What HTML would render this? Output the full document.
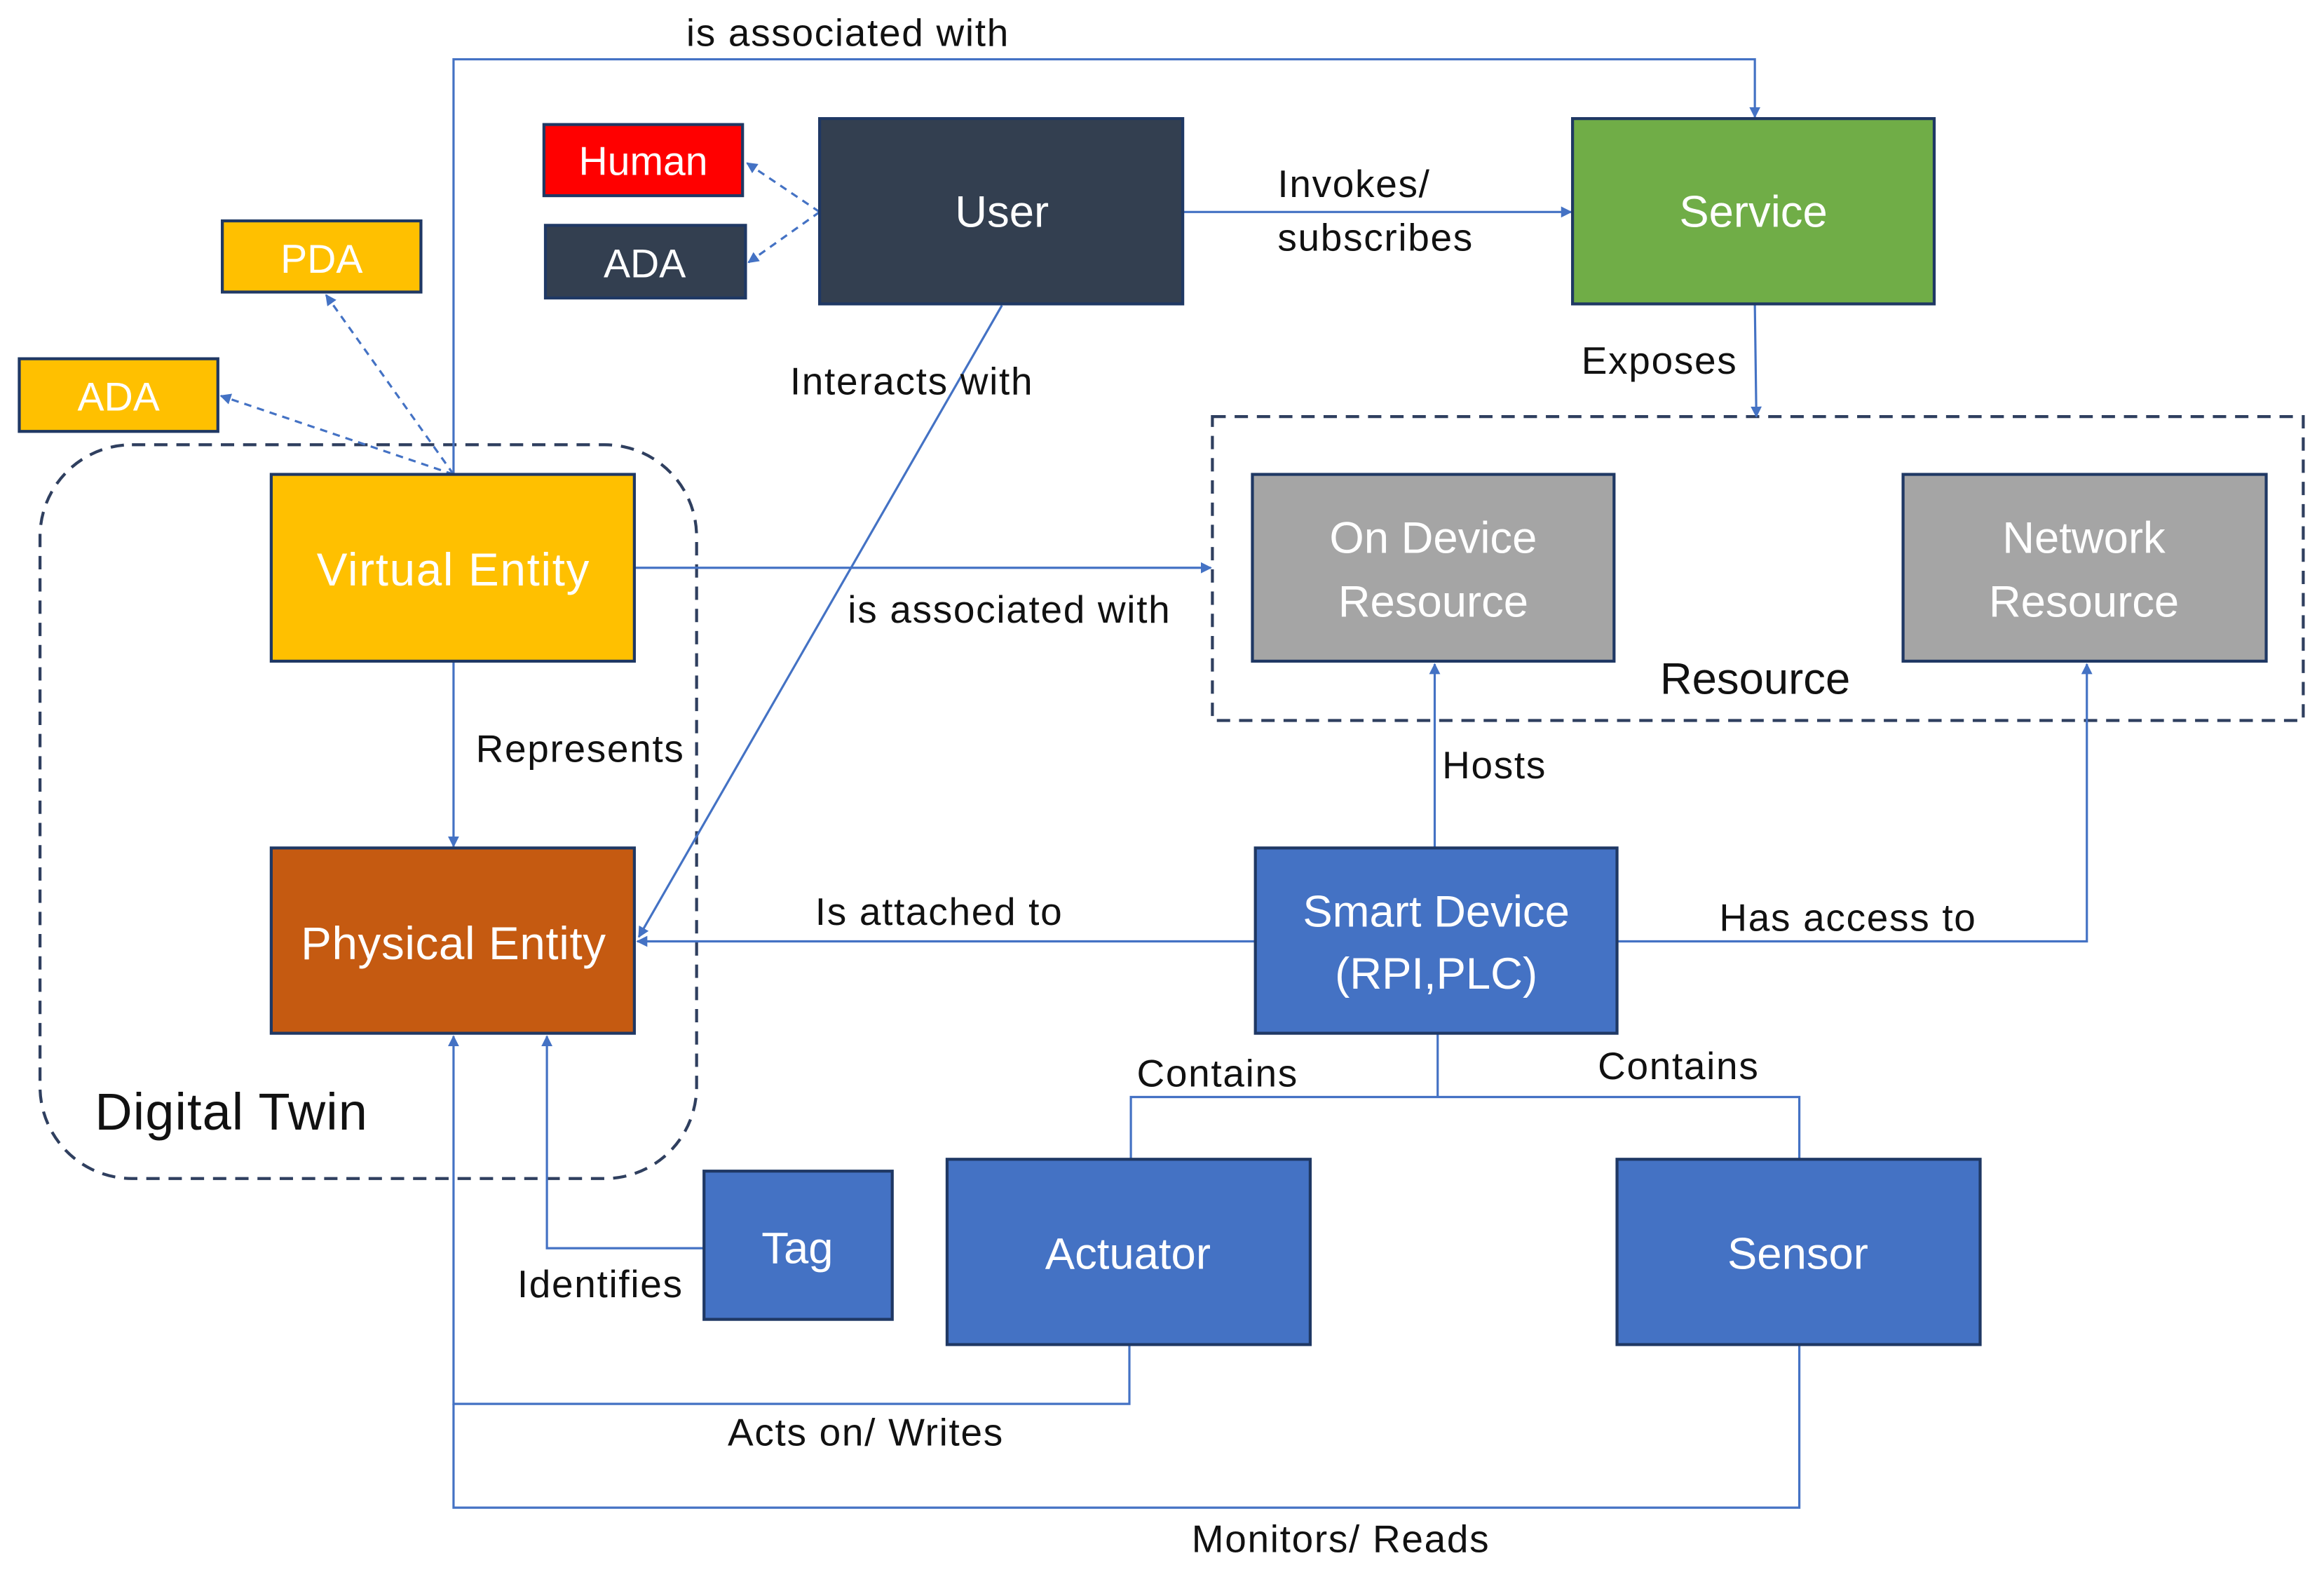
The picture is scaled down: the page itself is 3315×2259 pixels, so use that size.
<!DOCTYPE html>
<html><head><meta charset="utf-8"><style>html,body{margin:0;padding:0;background:#fff}svg{display:block}</style></head>
<body>
<svg width="3315" height="2259" viewBox="0 0 1568 1068.5" xmlns="http://www.w3.org/2000/svg" font-family="'Liberation Sans', 'DejaVu Sans', sans-serif">
<defs>
<marker id="a" viewBox="0 0 10 10" refX="9" refY="5" markerWidth="5" markerHeight="5" orient="auto-start-reverse"><path d="M0,0 L10,5 L0,10 z" fill="#4472c4"/></marker>
</defs>
<rect width="1568" height="1068.5" fill="#fff"/>
<rect x="27" y="300" width="443" height="495" rx="62" fill="none" stroke="#2f3f5f" stroke-width="2" stroke-dasharray="9,6"/>
<rect x="818" y="281" width="736" height="205" fill="none" stroke="#2f3f5f" stroke-width="2" stroke-dasharray="9,6"/>
<g fill="none" stroke="#4472c4" stroke-width="1.5">
<path d="M306,320 V40 H1184 V79" marker-end="url(#a)"/>
<path d="M798,143 H1060" marker-end="url(#a)"/>
<path d="M1184,206 L1185,281" marker-end="url(#a)"/>
<path d="M428,383 H817" marker-end="url(#a)"/>
<path d="M676,206 L431,632" marker-end="url(#a)"/>
<path d="M306,446 V571" marker-end="url(#a)"/>
<path d="M847,635 H430" marker-end="url(#a)"/>
<path d="M968,572 V448" marker-end="url(#a)"/>
<path d="M1091,635 H1408 V448" marker-end="url(#a)"/>
<path d="M970,697 V740 M763,782 V740 H1214 V782"/>
<path d="M475,842 H369 V699" marker-end="url(#a)"/>
<path d="M762,907 V947 H306 V699" marker-end="url(#a)"/>
<path d="M1214,907 V1017 H306 V947"/>
<g stroke-dasharray="5,4">
<path d="M553,143 L504,110" marker-end="url(#a)"/>
<path d="M553,143 L505,177" marker-end="url(#a)"/>
<path d="M306,320 L220,199" marker-end="url(#a)"/>
<path d="M306,320 L149,267" marker-end="url(#a)"/>
</g>
</g>
<g stroke="#1f3864" stroke-width="2">
<rect x="367" y="84" width="134" height="48" fill="#ff0000"/>
<rect x="368" y="152" width="135" height="49" fill="#333f50"/>
<rect x="553" y="80" width="245" height="125" fill="#333f50"/>
<rect x="1061" y="80" width="244" height="125" fill="#70ad47"/>
<rect x="150" y="149" width="134" height="48" fill="#ffc000"/>
<rect x="13" y="242" width="134" height="49" fill="#ffc000"/>
<rect x="183" y="320" width="245" height="126" fill="#ffc000"/>
<rect x="183" y="572" width="245" height="125" fill="#c55a11"/>
<rect x="845" y="320" width="244" height="126" fill="#a5a5a5"/>
<rect x="1284" y="320" width="245" height="126" fill="#a5a5a5"/>
<rect x="847" y="572" width="244" height="125" fill="#4472c4"/>
<rect x="475" y="790" width="127" height="100" fill="#4472c4"/>
<rect x="639" y="782" width="245" height="125" fill="#4472c4"/>
<rect x="1091" y="782" width="245" height="125" fill="#4472c4"/>
</g>
<g fill="#fff" text-anchor="middle" font-size="27">
<text x="434" y="118">Human</text>
<text x="435" y="187">ADA</text>
<text x="676" y="153" font-size="30">User</text>
<text x="1183" y="153" font-size="30">Service</text>
<text x="217" y="184">PDA</text>
<text x="80" y="277">ADA</text>
<text x="306" y="395" font-size="31" letter-spacing="0.8">Virtual Entity</text>
<text x="306" y="647" font-size="31" letter-spacing="0.3">Physical Entity</text>
<text x="967" y="373" font-size="30">On Device</text>
<text x="967" y="416" font-size="30">Resource</text>
<text x="1406" y="373" font-size="30">Network</text>
<text x="1406" y="416" font-size="30">Resource</text>
<text x="969" y="625" font-size="30">Smart Device</text>
<text x="969" y="667" font-size="30">(RPI,PLC)</text>
<text x="538" y="852" font-size="30">Tag</text>
<text x="761" y="856" font-size="30">Actuator</text>
<text x="1213" y="856" font-size="30">Sensor</text>
</g>
<g fill="#111" font-size="26" letter-spacing="0.8">
<text x="463" y="31">is associated with</text>
<text x="862" y="133">Invokes/</text>
<text x="862" y="169">subscribes</text>
<text x="1067" y="252">Exposes</text>
<text x="533" y="266">Interacts with</text>
<text x="572" y="420">is associated with</text>
<text x="321" y="514">Represents</text>
<text x="973" y="525">Hosts</text>
<text x="550" y="624">Is attached to</text>
<text x="1160" y="628">Has access to</text>
<text x="767" y="733">Contains</text>
<text x="1078" y="728">Contains</text>
<text x="349" y="875">Identifies</text>
<text x="491" y="975">Acts on/ Writes</text>
<text x="804" y="1047">Monitors/ Reads</text>
<text x="64" y="762" font-size="35" letter-spacing="0.5">Digital Twin</text>
<text x="1120" y="468" font-size="30" letter-spacing="0">Resource</text>
</g>
</svg>
</body></html>
